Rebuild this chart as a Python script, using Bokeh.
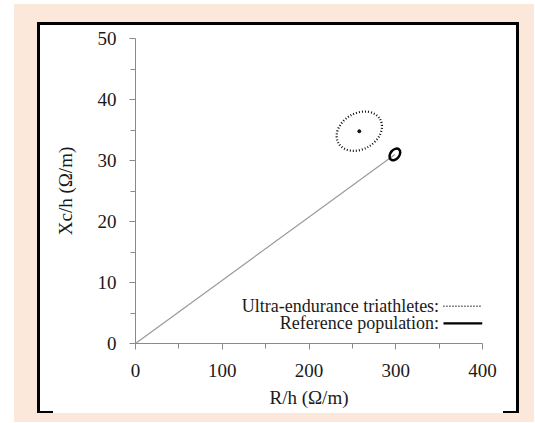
from bokeh.plotting import figure
from bokeh.models import Range1d, Label, FixedTicker
from bokeh.embed import file_html
from bokeh.resources import INLINE

# ---- data ----
groups = ["Ultra-endurance triathletes", "Reference population"]
r_h = [258.0, 299.0]      # mean R/h (Ohm/m)
xc_h = [34.8, 31.0]       # mean Xc/h (Ohm/m)
x_ticks = [0, 100, 200, 300, 400]
x_minor = [50, 150, 250, 350]
y_ticks = [0, 10, 20, 30, 40, 50]
y_minor = [5, 15, 25, 35, 45]
legend_labels = ["Ultra-endurance triathletes:", "Reference population:"]

SERIF = "Liberation Serif"
PEACH = "#fbe8da"

p = figure(width=534, height=422, x_range=Range1d(0, 400), y_range=Range1d(0, 50),
           output_backend="svg", toolbar_location=None,
           min_border_left=135, min_border_right=52, min_border_top=38, min_border_bottom=79)
p.border_fill_color = None
p.background_fill_color = None
p.outline_line_color = None
p.grid.visible = False

# page decoration (peach page, white panel with black frame open at the bottom)
def layer(color, x, y, w, h):
    return f"linear-gradient({color},{color}) {x}px {y}px / {w}px {h}px no-repeat"

bg = ", ".join([
    layer("#000", 37, 22, 482, 3),     # top line
    layer("#000", 37, 22, 3, 391),     # left line
    layer("#000", 516, 22, 3, 391),    # right line
    layer("#000", 37, 411, 16, 2),     # bottom-left stub
    layer("#000", 503, 411, 16, 2),    # bottom-right stub
    layer("#fff", 37, 22, 482, 391),   # white panel
    layer(PEACH, 14, 4, 520, 420),     # peach page
]) + ", #ffffff"
p.styles = {"background": bg}

# axes styling
for ax in (p.xaxis[0], p.yaxis[0]):
    ax.axis_line_color = "#8a8a8a"
    ax.major_tick_line_color = "#8a8a8a"
    ax.minor_tick_line_color = "#8a8a8a"
    ax.major_tick_in = 0
    ax.major_tick_out = 6
    ax.minor_tick_in = 0
    ax.minor_tick_out = 5
    ax.major_label_text_font = SERIF
    ax.major_label_text_font_size = "19px"
    ax.major_label_text_color = "#1a1a1a"
    ax.axis_label_text_font = SERIF
    ax.axis_label_text_font_size = "19px"
    ax.axis_label_text_font_style = "normal"
    ax.axis_label_text_color = "#1a1a1a"

p.xaxis.ticker = FixedTicker(ticks=x_ticks, minor_ticks=x_minor)
p.yaxis.ticker = FixedTicker(ticks=y_ticks, minor_ticks=y_minor)
p.xaxis.axis_label = "R/h (Ω/m)"
p.yaxis.axis_label = "Xc/h (Ω/m)"
p.xaxis.major_label_standoff = 14
p.yaxis.major_label_standoff = 13
p.xaxis.axis_label_standoff = 7
p.yaxis.axis_label_standoff = 19

# vector from origin to reference population mean
p.line([0, r_h[1]], [0, xc_h[1]], line_color="#9a9a9a", line_width=1.2)

# triathletes confidence ellipse (dotted) + centre dot
p.ellipse(x=[r_h[0]], y=[xc_h[0]], width=48, height=36, angle=0.52,
          width_units="screen", height_units="screen",
          fill_color=None, line_color="#111111", line_width=2.2, line_dash="1 2")
p.scatter(x=[r_h[0]], y=[xc_h[0]], size=3, color="#111111")

# reference population ellipse (solid, bold)
p.ellipse(x=[r_h[1]], y=[xc_h[1]], width=13, height=9, angle=0.9,
          width_units="screen", height_units="screen",
          fill_color=None, line_color="black", line_width=2.5)

# legend (label first, then line sample)
leg_y = [6.1, 3.3]
for lab, yy in zip(legend_labels, leg_y):
    p.add_layout(Label(x=350, y=yy, text=lab, text_align="right", text_baseline="middle",
                       text_font=SERIF, text_font_size="18px", text_color="#1a1a1a"))
p.line([355, 398], [leg_y[0], leg_y[0]], line_color="#111111", line_width=1.6, line_dash="1 2")
p.line([355, 400], [leg_y[1], leg_y[1]], line_color="black", line_width=2.2)

open("out.html", "w").write(file_html(p, INLINE))
